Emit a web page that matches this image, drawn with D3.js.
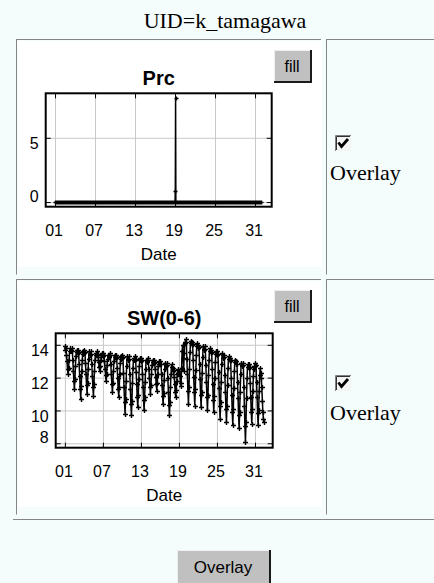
<!DOCTYPE html>
<html>
<head>
<meta charset="utf-8">
<script src="https://cdn.jsdelivr.net/npm/d3@7"></script>
<style>
  body { margin: 0; background: #f4fcfc; overflow: hidden; }
  svg { display: block; }
  .grid line { stroke: #c8c8c8; }
  .grid .domain, .ticks .domain { display: none; }
  .ticks line { stroke: #000; }
  .sans { font-family: "Liberation Sans", Arial, sans-serif; }
  .serif { font-family: "Liberation Serif", "Times New Roman", serif; }
</style>
</head>
<body>
<svg id="page"></svg>
<script>
const WIDTH = 434;
const HEIGHT = 583;

// x axis (day of month)
const xTicks = [1, 7, 13, 19, 25, 31];
const xTickLabels = ["01", "07", "13", "19", "25", "31"];

// Prc: hourly, zero except the one shower on the 19th
const prcYTicks = [0, 5];
const prcHours = 744;
const prcRain = [
  { hour: 433, value: 0.9 },
  { hour: 434, value: 8.1 }
];

// SW(0-6): 12 readings per day (2-hourly), days 1..32
const swYTicks = [8, 10, 12, 14];
const swPerDay = 12;
const swDaily = [
  [13.7, 13.9, 13.8, 13.4, 13.0, 12.5, 12.2, 12.6, 13.1, 13.6, 13.8, 13.7],
  [13.6, 13.8, 13.65, 13.1, 12.4, 11.8, 11.3, 11.9, 12.7, 13.3, 13.7, 13.55],
  [13.5, 13.7, 13.55, 12.8, 12.1, 11.3, 10.7, 11.5, 12.4, 13.1, 13.6, 13.45],
  [13.5, 13.7, 13.55, 12.9, 12.2, 11.55, 11.0, 11.7, 12.5, 13.15, 13.6, 13.45],
  [13.4, 13.6, 13.45, 12.8, 12.1, 11.45, 10.9, 11.6, 12.4, 13.05, 13.5, 13.35],
  [13.4, 13.6, 13.45, 13.25, 12.95, 12.65, 12.4, 12.7, 13.05, 13.35, 13.5, 13.35],
  [13.3, 13.5, 13.35, 13.0, 12.55, 12.15, 11.8, 12.2, 12.75, 13.15, 13.4, 13.25],
  [13.3, 13.5, 13.35, 12.8, 12.2, 11.6, 11.1, 11.7, 12.4, 13.0, 13.4, 13.25],
  [13.2, 13.4, 13.25, 12.6, 12.0, 11.3, 10.8, 11.45, 12.25, 12.9, 13.3, 13.15],
  [13.2, 13.4, 13.25, 12.3, 11.4, 10.5, 9.8, 10.7, 11.8, 12.7, 13.3, 13.15],
  [13.1, 13.3, 13.15, 12.2, 11.3, 10.4, 9.7, 10.6, 11.7, 12.6, 13.2, 13.05],
  [13.1, 13.3, 13.15, 12.35, 11.6, 10.8, 10.2, 10.95, 11.9, 12.7, 13.2, 13.05],
  [13.0, 13.2, 13.05, 12.25, 11.45, 10.65, 10.0, 10.8, 11.75, 12.55, 13.1, 12.95],
  [13.0, 13.2, 13.05, 12.55, 12.0, 11.45, 11.0, 11.55, 12.2, 12.75, 13.1, 12.95],
  [12.9, 13.1, 12.95, 12.55, 12.05, 11.6, 11.2, 11.65, 12.25, 12.7, 13.0, 12.85],
  [12.8, 13.0, 12.85, 12.2, 11.55, 10.9, 10.4, 11.05, 11.85, 12.5, 12.9, 12.75],
  [12.7, 12.9, 12.75, 11.95, 11.15, 10.35, 9.7, 10.5, 11.45, 12.25, 12.8, 12.65],
  [12.4, 12.6, 12.45, 12.05, 11.6, 11.15, 10.8, 11.25, 11.8, 12.25, 12.5, 12.3],
  [12.2, 12.4, 12.1, 11.7, 11.5, 12.6, 13.6, 14.0, 13.2, 12.4, 13.5, 14.1],
  [14.15, 14.35, 14.2, 13.15, 12.2, 11.2, 10.4, 11.4, 12.55, 13.55, 14.25, 14.1],
  [14.0, 14.2, 14.05, 13.05, 12.05, 11.1, 10.3, 11.3, 12.45, 13.4, 14.1, 13.95],
  [13.8, 14.0, 13.85, 12.85, 11.9, 10.95, 10.2, 11.15, 12.3, 13.25, 13.9, 13.75],
  [13.7, 13.9, 13.75, 12.75, 11.75, 10.8, 10.0, 10.95, 12.15, 13.1, 13.8, 13.65],
  [13.5, 13.7, 13.55, 12.55, 11.6, 10.65, 9.9, 10.85, 12.0, 12.95, 13.6, 13.45],
  [13.4, 13.6, 13.45, 12.35, 11.35, 10.3, 9.5, 10.5, 11.75, 12.8, 13.5, 13.35],
  [13.2, 13.4, 13.25, 12.15, 11.15, 10.1, 9.3, 10.3, 11.55, 12.6, 13.3, 13.15],
  [13.0, 13.2, 13.05, 11.95, 10.95, 9.9, 9.1, 10.1, 11.35, 12.4, 13.1, 12.95],
  [12.8, 13.0, 12.85, 11.75, 10.75, 9.7, 8.9, 9.9, 11.15, 12.2, 12.9, 12.75],
  [12.7, 12.9, 12.75, 11.45, 10.25, 9.05, 8.1, 9.3, 10.75, 11.95, 12.8, 12.65],
  [12.6, 12.8, 12.65, 11.7, 10.8, 9.9, 9.2, 10.1, 11.2, 12.1, 12.7, 12.55],
  [12.7, 12.9, 12.75, 11.75, 10.8, 9.85, 9.1, 10.05, 11.2, 12.15, 12.6, 12.3],
  [12.0, 11.4, 10.6, 9.9, 9.5, 9.3]
];

// build series
const rainByHour = new Map(prcRain.map(d => [d.hour, d.value]));
const prcSeries = d3.range(prcHours).map(h => ({ t: 1 + h / 24, v: rainByHour.get(h) || 0 }));
const swSeries = [];
swDaily.forEach((vals, day) => {
  vals.forEach((v, i) => swSeries.push({ t: 1 + day + i / swPerDay, v }));
});

const svg = d3.select("#page").attr("width", WIDTH).attr("height", HEIGHT);
svg.append("rect").attr("width", WIDTH).attr("height", HEIGHT).attr("fill", "#f4fcfc");

// page header
svg.append("text").attr("class", "serif")
  .attr("x", 225).attr("y", 28).attr("text-anchor", "middle")
  .attr("font-size", 22).attr("fill", "#000")
  .text("UID=k_tamagawa");

// table borders
const lineColor = "#858585";
function hline(x0, x1, y) {
  svg.append("line").attr("x1", x0).attr("x2", x1).attr("y1", y).attr("y2", y)
    .attr("stroke", lineColor).attr("stroke-width", 1);
}
function vline(x, y0, y1) {
  svg.append("line").attr("x1", x).attr("x2", x).attr("y1", y0).attr("y2", y1)
    .attr("stroke", lineColor).attr("stroke-width", 1);
}
[39.5, 279.5].forEach(top => {
  hline(16, 321, top);
  hline(326, WIDTH, top);
  vline(16.5, top, top + 235);
  vline(326.5, top, top + 235);
});
hline(13, WIDTH, 519.5);

// one applet-like chart
function drawChart(cfg) {
  const g = svg.append("g").attr("transform", `translate(${cfg.left},${cfg.top})`);
  const { x0, x1, y0, y1 } = cfg.frame;
  const x = d3.scaleLinear().domain(cfg.xDomain).range([x0, x1]);
  const y = d3.scaleLinear().domain(cfg.yDomain).range([y1, y0]);

  g.append("rect").attr("width", 304).attr("height", 226).attr("fill", "#fff");

  // grid
  g.append("g").attr("class", "grid").attr("transform", `translate(0,${y1})`)
    .call(d3.axisBottom(x).tickValues(xTicks).tickSize(-(y1 - y0)).tickFormat(""));
  g.append("g").attr("class", "grid").attr("transform", `translate(${x0},0)`)
    .call(d3.axisLeft(y).tickValues(cfg.yTicks).tickSize(-(x1 - x0)).tickFormat(""));

  // inward ticks on all sides
  const tk = 5;
  g.append("g").attr("class", "ticks").attr("transform", `translate(0,${y1})`)
    .call(d3.axisTop(x).tickValues(xTicks).tickSize(tk).tickFormat(""));
  g.append("g").attr("class", "ticks").attr("transform", `translate(0,${y0})`)
    .call(d3.axisBottom(x).tickValues(xTicks).tickSize(tk).tickFormat(""));
  g.append("g").attr("class", "ticks").attr("transform", `translate(${x0},0)`)
    .call(d3.axisRight(y).tickValues(cfg.yTicks).tickSize(tk).tickFormat(""));
  g.append("g").attr("class", "ticks").attr("transform", `translate(${x1},0)`)
    .call(d3.axisLeft(y).tickValues(cfg.yTicks).tickSize(tk).tickFormat(""));

  // data line + "+" markers
  const line = d3.line().x(d => x(d.t)).y(d => y(d.v));
  g.append("path").datum(cfg.data)
    .attr("d", line).attr("fill", "none").attr("stroke", "#000").attr("stroke-width", 1.5);
  const m = cfg.mark;
  g.append("path")
    .attr("d", cfg.data.map(d => {
      const px = Math.round(x(d.t)) + 0.5, py = Math.round(y(d.v)) + 0.5;
      return `M${px - m},${py}h${2 * m}M${px},${py - m}v${2 * m}`;
    }).join(""))
    .attr("fill", "none").attr("stroke", "#000").attr("stroke-width", 1.4);

  // frame
  g.append("rect").attr("x", x0).attr("y", y0).attr("width", x1 - x0).attr("height", y1 - y0)
    .attr("fill", "none").attr("stroke", "#000").attr("stroke-width", 2);

  // labels
  g.append("text").attr("class", "sans")
    .attr("x", (x0 + x1) / 2).attr("y", y0 - 8).attr("text-anchor", "middle")
    .attr("font-size", 20).attr("font-weight", "bold").text(cfg.title);

  g.selectAll(".xl").data(xTicks).join("text").attr("class", "sans xl")
    .attr("x", d => x(d) - 1).attr("y", y1 + 29).attr("text-anchor", "middle")
    .attr("font-size", 16).text((d, i) => xTickLabels[i]);

  g.selectAll(".yl").data(cfg.yTicks).join("text").attr("class", "sans yl")
    .attr("x", x0 - 7).attr("y", d => Math.min(y(d) + 11.5, y1 - 5)).attr("text-anchor", "end")
    .attr("font-size", 16).text(d => d);

  g.append("text").attr("class", "sans")
    .attr("x", (x0 + x1) / 2).attr("y", y1 + 53).attr("text-anchor", "middle")
    .attr("font-size", 17).text("Date");
}

drawChart({
  left: 18, top: 41, title: "Prc", data: prcSeries, mark: 2,
  frame: { x0: 27.7, x1: 253.7, y0: 52.3, y1: 165.7 },
  xDomain: [-0.4, 33.5], yDomain: [-0.36, 8.46], yTicks: prcYTicks
});
drawChart({
  left: 18, top: 281, title: "SW(0-6)", data: swSeries, mark: 2.5,
  frame: { x0: 37.7, x1: 254.7, y0: 52.3, y1: 166.7 },
  xDomain: [-0.45, 33.8], yDomain: [7.73, 14.7], yTicks: swYTicks
});

// buttons
function button(x, y, w, h, label, size, baseline) {
  const b = svg.append("g");
  b.append("rect").attr("x", x).attr("y", y).attr("width", w).attr("height", h).attr("fill", "#c0c0c0");
  b.append("path").attr("d", `M${x + 0.5},${y + h}V${y + 0.5}H${x + w}`)
    .attr("fill", "none").attr("stroke", "#f0f0f0");
  b.append("path").attr("d", `M${x + w - 1},${y}V${y + h - 1}H${x}`)
    .attr("fill", "none").attr("stroke", "#1a1a1a").attr("stroke-width", 2);
  b.append("text").attr("class", "sans").attr("x", x + w / 2 - 1).attr("y", baseline)
    .attr("text-anchor", "middle").attr("font-size", size).text(label);
}
button(274, 50, 38, 33, "fill", 16, 72);
button(274, 290, 38, 33, "fill", 16, 312);
button(177, 550, 94, 40, "Overlay", 17, 573);

// overlay checkboxes
function checkbox(x, y, labelY) {
  const c = svg.append("g");
  c.append("rect").attr("x", x).attr("y", y).attr("width", 16).attr("height", 16).attr("fill", "#f4f4f4");
  c.append("path").attr("d", `M${x + 0.5},${y + 16}V${y + 0.5}H${x + 16}`)
    .attr("fill", "none").attr("stroke", "#808080");
  c.append("path").attr("d", `M${x + 1.5},${y + 15}V${y + 1.5}H${x + 15}`)
    .attr("fill", "none").attr("stroke", "#333");
  c.append("path").attr("d", `M${x + 3.5},${y + 7.5}L${x + 6.5},${y + 11.5}L${x + 13},${y + 4}`)
    .attr("fill", "none").attr("stroke", "#000").attr("stroke-width", 2.8);
  svg.append("text").attr("class", "serif").attr("x", 330).attr("y", labelY)
    .attr("font-size", 22).text("Overlay");
}
checkbox(335, 135, 180);
checkbox(335, 375, 420);
</script>
</body>
</html>
